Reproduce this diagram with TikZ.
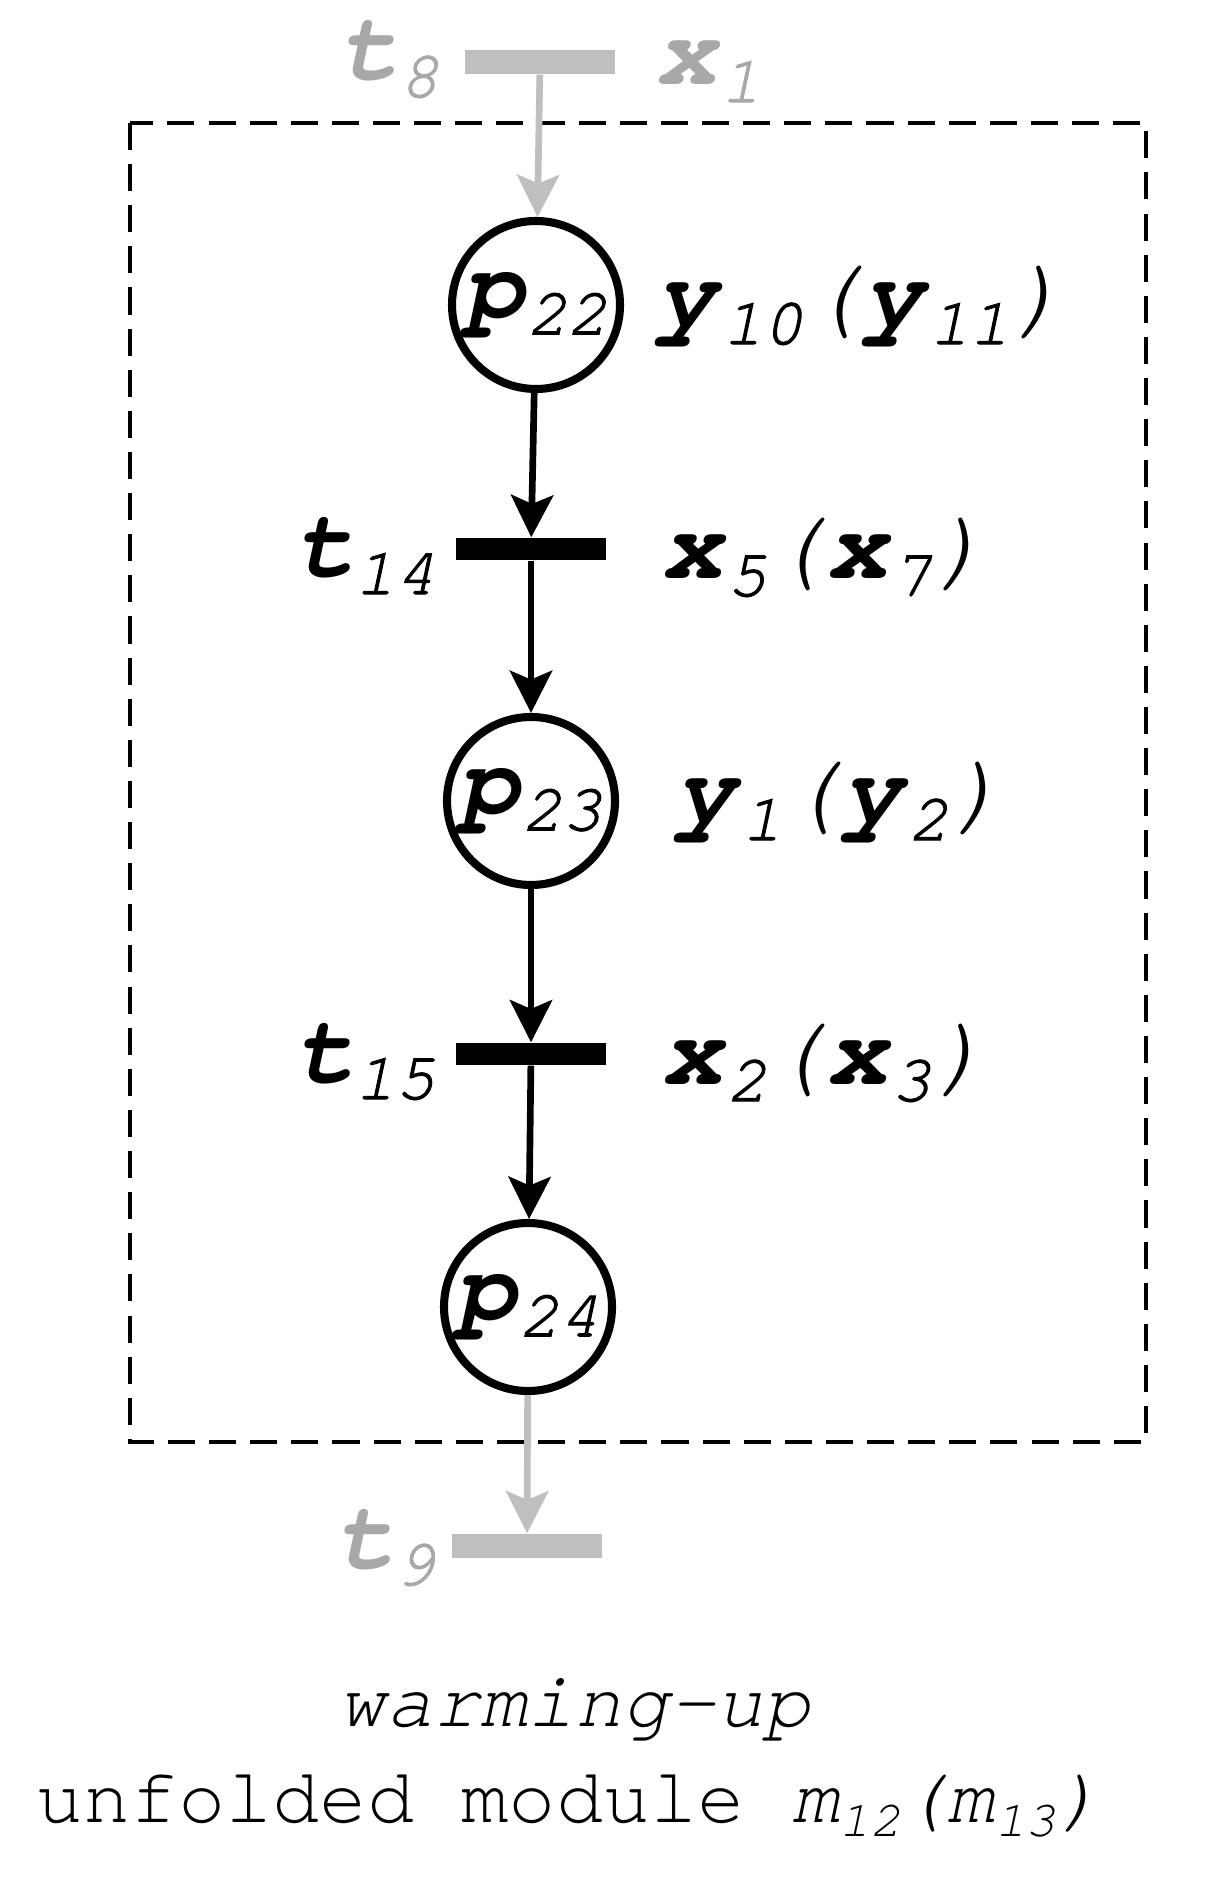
\documentclass[tikz,border=0pt]{standalone}
\usepackage{fontspec}
\setmonofont{TeX Gyre Cursor}
\usetikzlibrary{arrows.meta}
\definecolor{pngray}{RGB}{191,191,191}
\definecolor{labgray}{RGB}{168,168,168}
\newcommand{\subsz}{\fontsize{19}{21}\selectfont}
\newcommand{\pnlab}[2]{\textbf{\textit{#1}}\raisebox{-0.17em}{\subsz\itshape\addfontfeatures{FakeBold=1.5}#2}}
\tikzset{
  place/.style={circle, draw, line width=2.3pt, minimum size=1.68cm, inner sep=0pt,
    font=\ttfamily\fontsize{28.5}{31}\selectfont},
  trans/.style={rectangle, fill=black, minimum width=1.50cm, minimum height=0.22cm, inner sep=0pt},
  ghosttrans/.style={trans, fill=pngray, minimum height=0.24cm},
  arc/.style={-{Stealth[length=12pt, width=12pt, inset=2.5pt]}, line width=1.9pt},
  ghostarc/.style={arc, draw=pngray, fill=pngray},
  lab/.style={font=\ttfamily\fontsize{28.5}{31}\selectfont, inner sep=0pt},
  ghostlab/.style={lab, text=labgray},
  caption/.style={font=\ttfamily\fontsize{22.4}{26}\selectfont, inner sep=0pt},
  modbox/.style={line width=1.4pt, dash pattern=on 7.7pt off 4pt}
}
\begin{document}
\begin{tikzpicture}
            \useasboundingbox (0,0) rectangle (12.30,-18.92);
            % The module border
            \draw [modbox] (1.30,-1.23) rectangle (11.46,-14.42);

            % Places and transitions of the chain
            \node [ghosttrans] (t8) at (5.40,-0.62) {};
            \node [place] (p22) at (5.36,-3.05) {\pnlab{p}{22}};
            \node [trans] (t14) at (5.31,-5.49) {};
            \node [place] (p23) at (5.31,-8.01) {\pnlab{p}{23}};
            \node [trans] (t15) at (5.31,-10.54) {};
            \node [place] (p24) at (5.28,-13.07) {\pnlab{p}{24}};
            \node [ghosttrans] (t9) at (5.27,-15.46) {};

            % Arcs
            \draw [ghostarc] (t8) -- (p22);
            \foreach \a/\b in {p22/t14, t14/p23, p23/t15, t15/p24} {
              \draw [arc] (\a) -- (\b);
            }
            \draw [ghostarc] (p24) -- (t9);

            % Transition labels on the left
            \node [ghostlab, anchor=base east] (t8lab) at (4.40,-0.80) {\pnlab{t}{8}};
            \node [lab, anchor=base east] (t14lab) at (4.36,-5.77) {\pnlab{t}{14}};
            \node [lab, anchor=base east] (t15lab) at (4.36,-10.82) {\pnlab{t}{15}};
            \node [ghostlab, anchor=base east] (t9lab) at (4.36,-15.68) {\pnlab{t}{9}};

            % Signal labels on the right
            \node [ghostlab, anchor=base west] (x1lab) at (6.56,-0.85) {\pnlab{x}{1}};
            \node [lab, anchor=base west] (p22lab) at (6.56,-3.27)
              {\pnlab{y}{10}\textit{(}\pnlab{y}{11}\textit{)}};
            \node [lab, anchor=base west] (t14lab2) at (6.62,-5.79)
              {\pnlab{x}{5}\textit{(}\pnlab{x}{7}\textit{)}};
            \node [lab, anchor=base west] (p23lab) at (6.75,-8.23)
              {\pnlab{y}{1}\textit{(}\pnlab{y}{2}\textit{)}};
            \node [lab, anchor=base west] (t15lab2) at (6.62,-10.84)
              {\pnlab{x}{2}\textit{(}\pnlab{x}{3}\textit{)}};

            % Caption
            \node [caption, anchor=base] (cap1) at (5.75,-17.26) {\textit{warming-up}};
            \node [caption, anchor=base] (cap2) at (5.70,-18.22)
              {unfolded module \textit{m\raisebox{-0.18em}{\fontsize{14.5}{16}\selectfont 12}(m\raisebox{-0.18em}{\fontsize{14.5}{16}\selectfont 13})}};
        \end{tikzpicture}
\end{document}
